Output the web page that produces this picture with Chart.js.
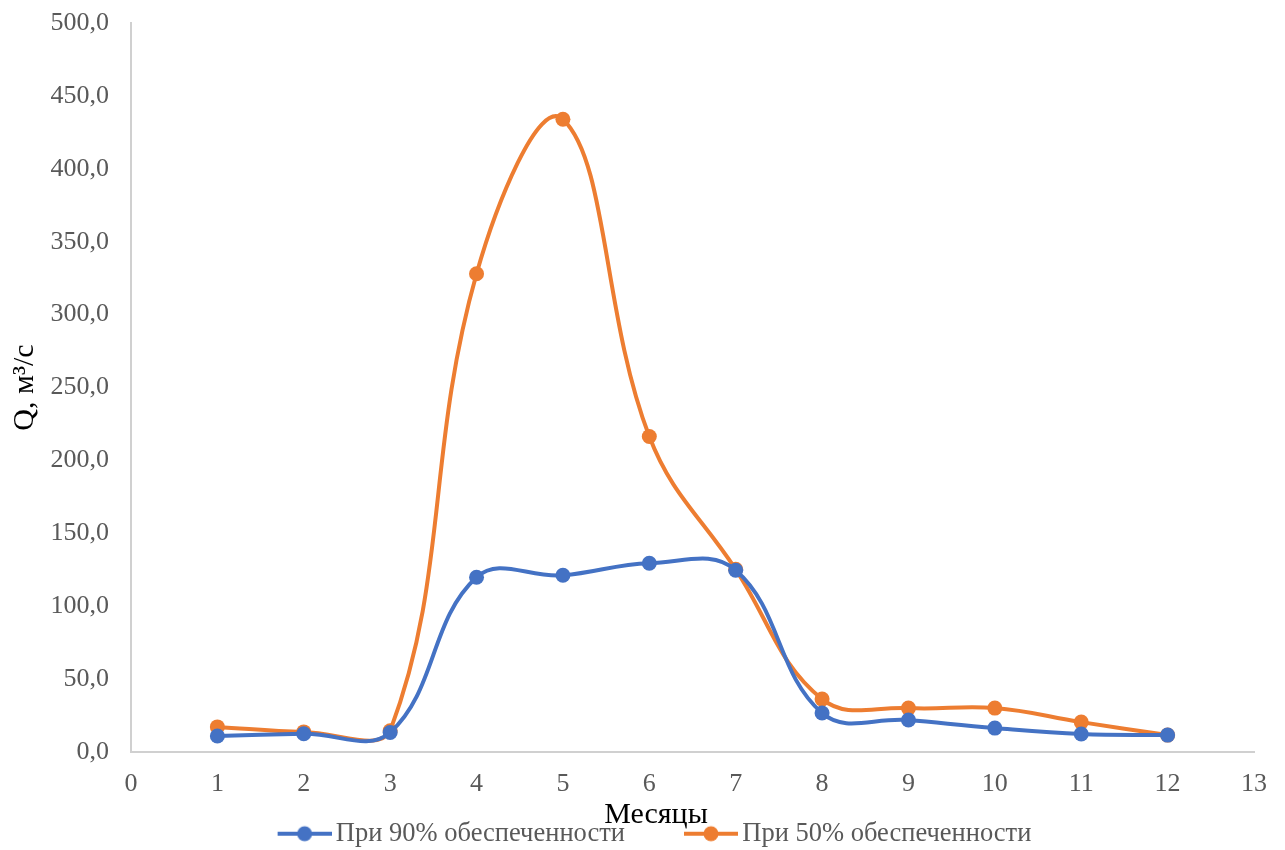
<!DOCTYPE html>
<html>
<head>
<meta charset="utf-8">
<script src="https://cdn.jsdelivr.net/npm/chart.js@4/dist/chart.umd.min.js"></script>
<style>
  html, body { margin: 0; padding: 0; background: #fff; }
  #wrap { width: 1285px; height: 850px; }
</style>
</head>
<body>
<div id="wrap"><canvas id="c" width="1285" height="850"></canvas></div>
<script>
// Среднемесячные расходы воды, м³/с
const months = [1, 2, 3, 4, 5, 6, 7, 8, 9, 10, 11, 12];
const q90 = [11.0, 12.5, 13.4, 119.9, 121.2, 129.5, 124.7, 26.7, 21.9, 16.4, 12.3, 11.6];
const q50 = [17.2, 13.8, 14.5, 328.0, 434.0, 216.4, 125.3, 36.3, 30.1, 30.1, 20.5, 11.6];
const seriesNames = ['При 90% обеспеченности', 'При 50% обеспеченности'];
const seriesColors = ['#4472C4', '#ED7D31'];
const xTitle = 'Месяцы';
const yTitle = 'Q, м³/с';

const serif = '"Liberation Serif", "Times New Roman", serif';
const tickGrey = '#595959';

// legend marker: a short line with a dot in the middle
function legendMarker(color) {
  const cv = document.createElement('canvas');
  cv.width = 118; cv.height = 18;
  const g = cv.getContext('2d');
  g.strokeStyle = color; g.lineWidth = 4;
  g.beginPath(); g.moveTo(64, 9); g.lineTo(118, 9); g.stroke();
  g.fillStyle = color;
  g.beginPath(); g.arc(91, 9, 7.5, 0, Math.PI * 2); g.fill();
  return cv;
}

function toPoints(values) {
  return months.map((m, i) => ({ x: m, y: values[i] }));
}

function makeSet(i, values) {
  return {
    label: seriesNames[i],
    data: toPoints(values),
    borderColor: seriesColors[i],
    backgroundColor: seriesColors[i],
    pointBackgroundColor: seriesColors[i],
    pointBorderColor: seriesColors[i],
    borderWidth: 4,
    pointRadius: 7.5,
    pointHoverRadius: 7.5,
    pointBorderWidth: 0,
    showLine: true,
    tension: 0.4,
    pointStyle: 'circle',
    legendMarker: legendMarker(seriesColors[i])
  };
}

// x-axis caption, centred above the legend
const xCaption = {
  id: 'xCaption',
  afterDraw(chart) {
    const ctx = chart.ctx;
    const lg = chart.legend;
    ctx.save();
    ctx.font = '30px ' + serif;
    ctx.fillStyle = '#000';
    ctx.textAlign = 'center';
    ctx.textBaseline = 'alphabetic';
    ctx.fillText(xTitle, (lg.left + lg.right) / 2 + 29, lg.top + 6);
    ctx.restore();
  }
};

new Chart(document.getElementById('c'), {
  type: 'scatter',
  data: { datasets: [makeSet(0, q90), makeSet(1, q50)] },
  plugins: [xCaption],
  options: {
    responsive: false,
    animation: false,
    layout: { padding: { left: 0, right: 31, top: 23, bottom: -7 } },
    plugins: {
      tooltip: { enabled: false },
      legend: {
        position: 'bottom',
        labels: {
          usePointStyle: true,
          pointStyleWidth: 100,
          padding: 4,
          color: tickGrey,
          font: { family: serif, size: 26.5 },
          generateLabels(chart) {
            return chart.data.datasets.map((ds, i) => ({
              text: ds.label,
              fillStyle: ds.borderColor,
              strokeStyle: ds.borderColor,
              lineWidth: 0,
              pointStyle: ds.legendMarker,
              fontColor: tickGrey,
              datasetIndex: i,
              hidden: false
            }));
          }
        }
      }
    },
    scales: {
      x: {
        type: 'linear',
        min: 0, max: 13,
        grid: { display: false, drawTicks: false },
        border: { display: true, color: '#d0d0d0', width: 2 },
        ticks: {
          stepSize: 1,
          padding: 17,
          color: tickGrey,
          font: { family: serif, size: 26 }
        },
        afterFit(scale) { scale.height = 64.5; }
      },
      y: {
        min: 0, max: 500,
        grid: { display: false, drawTicks: false },
        border: { display: true, color: '#d0d0d0', width: 2 },
        ticks: {
          stepSize: 50,
          padding: 22,
          color: tickGrey,
          font: { family: serif, size: 26 },
          callback: v => v.toFixed(1).replace('.', ',')
        },
        title: {
          display: true,
          text: yTitle,
          color: '#000',
          font: { family: serif, size: 30 },
          padding: { top: 7, bottom: 0 }
        },
        afterFit(scale) {
          scale.width = 131;
          scale.paddingTop = 0;
          scale.paddingBottom = 0;
        }
      }
    }
  }
});
</script>
</body>
</html>
